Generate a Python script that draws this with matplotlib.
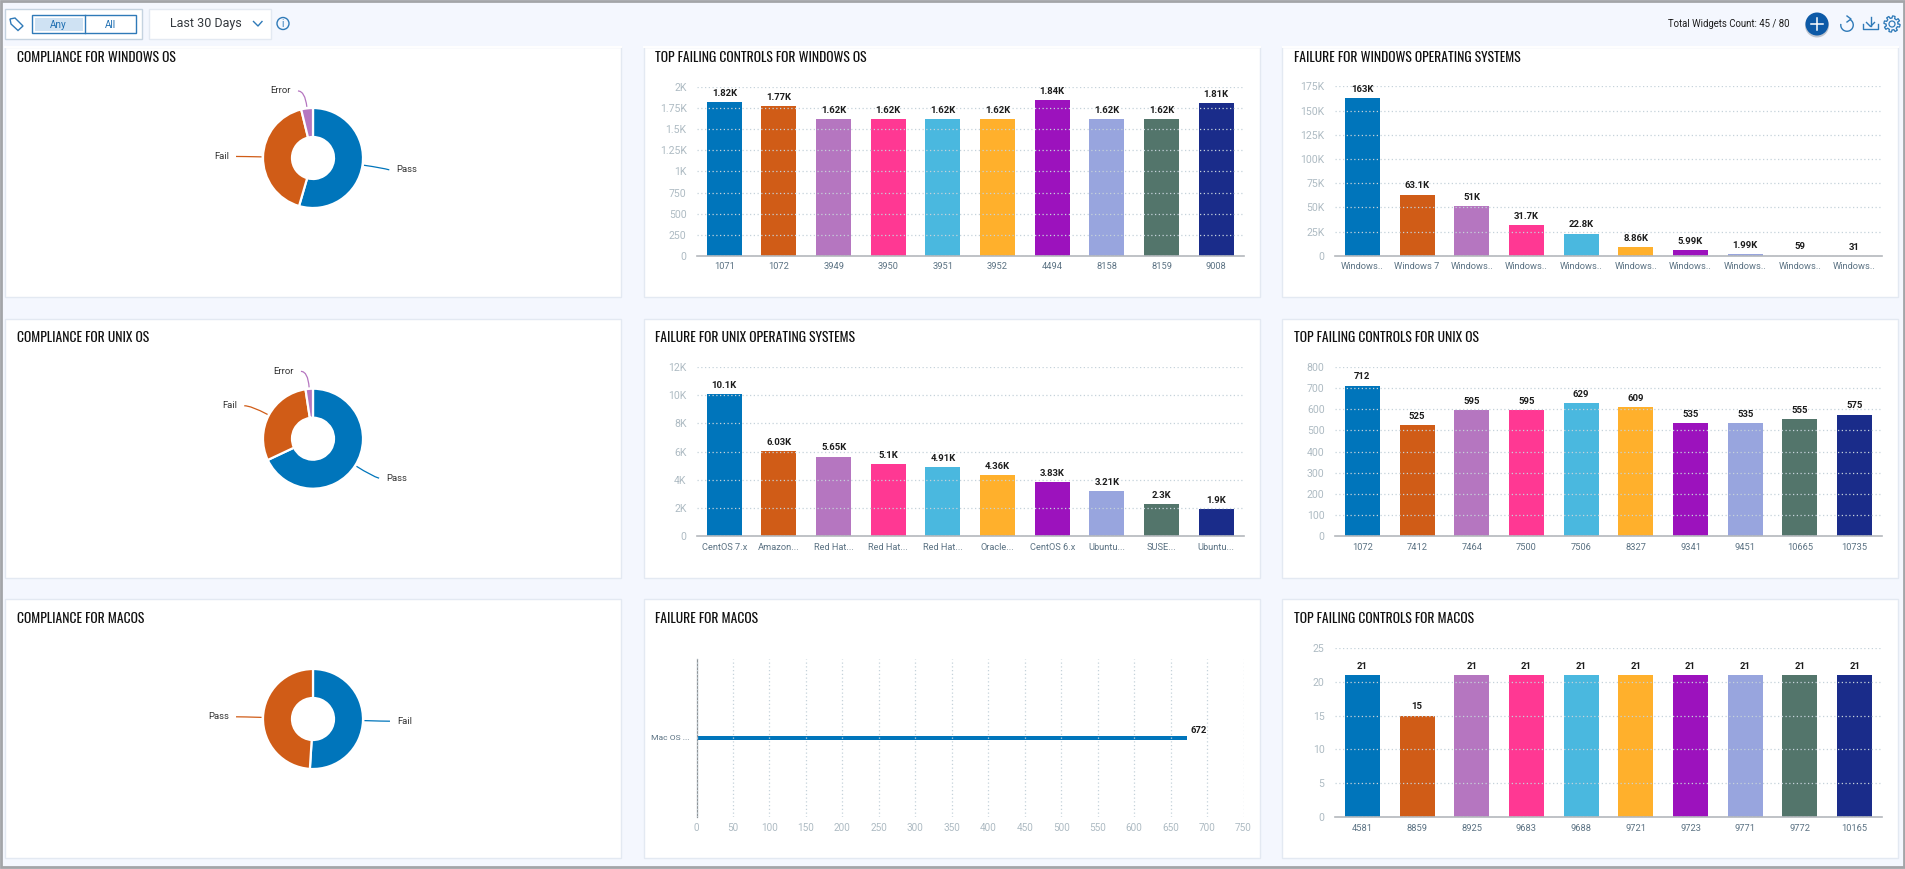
#!/usr/bin/env python3
import numpy as np
import matplotlib
matplotlib.use("Agg")
import matplotlib.pyplot as plt
from matplotlib.patches import Rectangle, Circle, PathPatch, Arc, Polygon
from matplotlib.path import Path

W, H = 1905, 869
BG = "#f4f7fe"
TITLE_FONT = ["Oswald", "Roboto Condensed", "DejaVu Sans"]
plt.rcParams["font.family"] = ["Roboto", "DejaVu Sans"]

bar_colors = ["#0075bb", "#d05c17", "#b576c0", "#ff3893", "#4ab8df",
              "#ffb02c", "#9c12bd", "#98a5de", "#53756b", "#1a2c8a"]

# donuts
win_donut_names = ["Pass", "Fail", "Error"]
win_donut_vals = [54.5, 41.7, 3.8]
unix_donut_names = ["Pass", "Fail", "Error"]
unix_donut_vals = [68.0, 29.6, 2.4]
mac_donut_names = ["Fail", "Pass"]
mac_donut_vals = [51.0, 49.0]

# bar charts
win_ctrl_cats = ["1071", "1072", "3949", "3950", "3951", "3952", "4494", "8158", "8159", "9008"]
win_ctrl_vals = [1820, 1770, 1620, 1620, 1620, 1620, 1840, 1620, 1620, 1810]
win_ctrl_ticks = [0, 250, 500, 750, 1000, 1250, 1500, 1750, 2000]
win_ctrl_ticklabels = ["0", "250", "500", "750", "1K", "1.25K", "1.5K", "1.75K", "2K"]

win_fail_cats = ["Windows..", "Windows 7", "Windows..", "Windows..", "Windows..",
                 "Windows..", "Windows..", "Windows..", "Windows..", "Windows.."]
win_fail_vals = [163000, 63100, 51000, 31700, 22800, 8860, 5990, 1990, 59, 31]
win_fail_ticks = [0, 25000, 50000, 75000, 100000, 125000, 150000, 175000]
win_fail_ticklabels = ["0", "25K", "50K", "75K", "100K", "125K", "150K", "175K"]

unix_fail_cats = ["CentOS 7.x", "Amazon...", "Red Hat...", "Red Hat...", "Red Hat...",
                  "Oracle...", "CentOS 6.x", "Ubuntu...", "SUSE...", "Ubuntu..."]
unix_fail_vals = [10100, 6030, 5650, 5100, 4910, 4360, 3830, 3210, 2300, 1900]
unix_fail_ticks = [0, 2000, 4000, 6000, 8000, 10000, 12000]
unix_fail_ticklabels = ["0", "2K", "4K", "6K", "8K", "10K", "12K"]

unix_ctrl_cats = ["1072", "7412", "7464", "7500", "7506", "8327", "9341", "9451", "10665", "10735"]
unix_ctrl_vals = [712, 525, 595, 595, 629, 609, 535, 535, 555, 575]
unix_ctrl_ticks = [0, 100, 200, 300, 400, 500, 600, 700, 800]
unix_ctrl_ticklabels = ["0", "100", "200", "300", "400", "500", "600", "700", "800"]

mac_ctrl_cats = ["4581", "8859", "8925", "9683", "9688", "9721", "9723", "9771", "9772", "10165"]
mac_ctrl_vals = [21, 15, 21, 21, 21, 21, 21, 21, 21, 21]
mac_ctrl_ticks = [0, 5, 10, 15, 20, 25]
mac_ctrl_ticklabels = ["0", "5", "10", "15", "20", "25"]

mac_fail_cats = ["Mac OS ..."]
mac_fail_vals = [672]
mac_fail_ticks = [0, 50, 100, 150, 200, 250, 300, 350, 400, 450, 500, 550, 600, 650, 700, 750]

fig = plt.figure(figsize=(W / 100, H / 100), dpi=100, facecolor=BG)

# whole-figure axes in pixel coordinates for the page chrome
bg = fig.add_axes([0, 0, 1, 1], zorder=0)
bg.set_xlim(0, W)
bg.set_ylim(H, 0)
bg.axis("off")


def axes_px(x0, y0, x1, y1):
    ax = fig.add_axes([x0 / W, 1 - y1 / H, (x1 - x0) / W, (y1 - y0) / H], zorder=2)
    ax.set_facecolor("none")
    return ax


def box(x0, y0, x1, y1, fc="white", ec="#e3e9f2", lw=1.0):
    bg.add_patch(Rectangle((x0, y0), x1 - x0, y1 - y0, fc=fc, ec=ec, lw=lw))


def short(v):
    if v >= 1000:
        return f"{v / 1000:.3g}K"
    return str(v)


def draw_bars(x0, y0, x1, y1, cats, vals, ticks, ticklabels):
    ax = axes_px(x0, y0, x1, y1)
    xs = np.arange(len(cats))
    ax.bar(xs, vals, width=0.64, color=bar_colors, zorder=1)
    ax.set_xlim(-0.5, len(cats) - 0.5)
    ax.set_ylim(ticks[0], ticks[-1])
    ax.set_xticks(xs, cats)
    ax.set_yticks(ticks, ticklabels)
    ax.set_axisbelow(False)
    ax.yaxis.grid(True, linestyle=(0, (1, 2)), color="#c5d2da", lw=0.9)
    ax.xaxis.grid(False)
    for s in ["top", "left", "right"]:
        ax.spines[s].set_visible(False)
    ax.spines["bottom"].set_color("#b4b8bc")
    ax.spines["bottom"].set_linewidth(1.2)
    ax.tick_params(axis="x", length=0, pad=4.5, labelsize=6.7, labelcolor="#5b7283")
    ax.tick_params(axis="y", length=0, pad=7.5, labelsize=7.6, labelcolor="#aebbc3")
    for x, v in zip(xs, vals):
        ax.annotate(short(v), (x, v), xytext=(0, 6.3), textcoords="offset points",
                    ha="center", va="center", fontsize=6.8, fontweight="bold",
                    color="#1c1c1c", zorder=5)
    return ax


def draw_donut(cx, cy, names, vals):
    R = 50.0
    ax = axes_px(cx - 160, cy - 100, cx + 160, cy + 100)
    colors = bar_colors[:len(vals)]
    ax.pie(vals, radius=R, startangle=90, counterclock=False, colors=colors,
           wedgeprops=dict(width=R - 21, edgecolor="white", linewidth=1.6), frame=False)
    ax.set_xlim(-160, 160)
    ax.set_ylim(-100, 100)
    ax.set_aspect("equal")
    ax.axis("off")
    # connectors, from the middle angle of each slice
    start = 0.0
    total = sum(vals)
    for name, v, col in zip(names, vals, colors):
        mid = np.radians(start + v / total * 180)
        start += v / total * 360
        sx, sy = np.sin(mid), np.cos(mid)
        side = 1 if sx > 0 else -1
        reach = 1.35 if abs(sx) < 0.3 and sy > 0 else 1.4
        p0 = (sx * R * 1.03, sy * R * 1.03)
        p1 = (sx * R * reach, sy * R * reach)
        drop = 2 if sy < -0.1 else 0
        p2 = (p1[0] + side * 7, p1[1] - drop)
        path = Path([p0, p1, p2], [Path.MOVETO, Path.CURVE3, Path.CURVE3])
        ax.add_patch(PathPatch(path, fc="none", ec=col, lw=0.9))
        ax.text(p2[0] + side * 7, p2[1], name, fontsize=6.8, color="#333333", va="center",
                ha="left" if side > 0 else "right")


# panels
col_x = [(4.5, 621), (643.5, 1260), (1282, 1898)]
row_y = [(46.5, 297), (318.7, 578), (599.3, 858)]
for x0, x1 in col_x:
    for y0, y1 in row_y:
        box(x0, y0, x1, y1)
    # top row runs under the header, its upper edge has no border
    bg.plot([x0 + 0.5, x1 - 0.5], [row_y[0][0], row_y[0][0]], color="white", lw=1.4)

title_x = [17, 655.3, 1294]
title_y = [57, 338, 618.7]
titles = [["COMPLIANCE FOR WINDOWS OS", "TOP FAILING CONTROLS FOR WINDOWS OS", "FAILURE FOR WINDOWS OPERATING SYSTEMS"],
          ["COMPLIANCE FOR UNIX OS", "FAILURE FOR UNIX OPERATING SYSTEMS", "TOP FAILING CONTROLS FOR UNIX OS"],
          ["COMPLIANCE FOR MACOS", "FAILURE FOR MACOS", "TOP FAILING CONTROLS FOR MACOS"]]
for r, row in enumerate(titles):
    for c, t in enumerate(row):
        bg.text(title_x[c], title_y[r], t, family=TITLE_FONT, fontsize=9.8, color="#111111", va="center")

draw_donut(313, 158, win_donut_names, win_donut_vals)
draw_donut(313, 438.7, unix_donut_names, unix_donut_vals)
draw_donut(313, 719, mac_donut_names, mac_donut_vals)

draw_bars(697, 86.7, 1243.5, 256, win_ctrl_cats, win_ctrl_vals, win_ctrl_ticks, win_ctrl_ticklabels)
draw_bars(1335, 86.4, 1882, 255.8, win_fail_cats, win_fail_vals, win_fail_ticks, win_fail_ticklabels)
draw_bars(697, 367, 1243.5, 536.3, unix_fail_cats, unix_fail_vals, unix_fail_ticks, unix_fail_ticklabels)
draw_bars(1335, 367, 1882, 536.3, unix_ctrl_cats, unix_ctrl_vals, unix_ctrl_ticks, unix_ctrl_ticklabels)
draw_bars(1335, 647.7, 1882, 817.3, mac_ctrl_cats, mac_ctrl_vals, mac_ctrl_ticks, mac_ctrl_ticklabels)

# the one horizontal bar
ax = axes_px(696.5, 659, 1243.5, 816.7)
ax.barh(mac_fail_cats, mac_fail_vals, height=0.026, color=bar_colors[0], zorder=1)
ax.set_xlim(0, 750)
ax.set_ylim(-0.5, 0.5)
ax.set_xticks(mac_fail_ticks)
ax.set_axisbelow(False)
ax.xaxis.grid(True, linestyle=(0, (1, 2)), color="#c5d2da", lw=0.9)
for s in ["top", "bottom", "right"]:
    ax.spines[s].set_visible(False)
ax.spines["left"].set_color("#8f9498")
ax.spines["left"].set_linewidth(0.9)
ax.tick_params(axis="x", length=0, pad=4.5, labelsize=7.2, labelcolor="#aebbc3")
ax.tick_params(axis="y", length=0, pad=5, labelsize=6.1, labelcolor="#5b7283")
ax.annotate(str(mac_fail_vals[0]), (mac_fail_vals[0], 0), xytext=(3, 5), textcoords="offset points",
            ha="left", va="center", fontsize=6.8, fontweight="bold", color="#1c1c1c", zorder=5)

# header, left side
BLUE = "#2f7ab8"
box(4.5, 9, 142, 38.5, ec="#c5d3e0")
box(32, 15, 136, 32.5, ec=BLUE, lw=1.0)
bg.add_patch(Rectangle((35, 17.5), 47.5, 13.5, fc="#cfe2f3", ec="none"))
bg.plot([84.5, 84.5], [15, 32.5], color=BLUE, lw=1.0)
bg.text(58.5, 24.5, "Any", fontsize=7.2, color="#1f6fb2", ha="center", va="center")
bg.text(110.5, 24.5, "All", fontsize=7.2, color="#1f6fb2", ha="center", va="center")
bg.add_patch(Polygon([(10, 19), (15, 18), (23, 26), (18, 30.5), (11, 24)], fc="none", ec=BLUE, lw=1.0))
box(149, 9, 270.5, 38.5)
bg.text(170.5, 24, "Last 30 Days", fontsize=9, color="#33383d", va="center")
bg.plot([253.5, 258, 262], [21.5, 26, 21.5], color=BLUE, lw=1.0)
bg.add_patch(Circle((283, 23.5), 6, fc="none", ec=BLUE, lw=1.0))
bg.text(283, 23.7, "i", fontsize=7, color=BLUE, ha="center", va="center")

# header, right side
bg.text(1668, 23.7, "Total Widgets Count: 45 / 80", fontsize=6.9, color="#1c1c1c", va="center")
bg.add_patch(Circle((1817, 25.5), 12, fc="#223344", ec="none", alpha=0.25))
bg.add_patch(Circle((1817, 24), 11.5, fc="#0d5aa7", ec="none"))
bg.plot([1811, 1823], [24, 24], color="white", lw=1.1)
bg.plot([1817, 1817], [18, 30], color="white", lw=1.1)
bg.add_patch(Arc((1847, 25), 12.5, 12.5, theta1=-60, theta2=190, color=BLUE, lw=1.0))
bg.plot([1847, 1851, 1847], [16, 19, 22], color=BLUE, lw=1.0)
bg.plot([1863, 1863, 1878, 1878], [24, 29, 29, 24], color=BLUE, lw=1.0)
bg.plot([1870.5, 1870.5], [17, 26], color=BLUE, lw=1.0)
bg.plot([1866.5, 1870.5, 1874.5], [22.5, 26.5, 22.5], color=BLUE, lw=1.0)
gear_angle = np.linspace(0, 2 * np.pi, 97)
gear_r = 7 + 1.1 * np.sign(np.sin(8 * gear_angle))
bg.plot(1892 + gear_r * np.cos(gear_angle), 24 + gear_r * np.sin(gear_angle), color=BLUE, lw=0.9)
bg.add_patch(Circle((1892, 24), 3, fc="none", ec=BLUE, lw=0.9))

# grey frame of the screenshot
bg.add_patch(Rectangle((0.5, 1), W - 1.5, H - 3, fc="none", ec="#a3a5a8", lw=2, zorder=10))

fig.savefig("out.png", dpi=100, facecolor=BG)
